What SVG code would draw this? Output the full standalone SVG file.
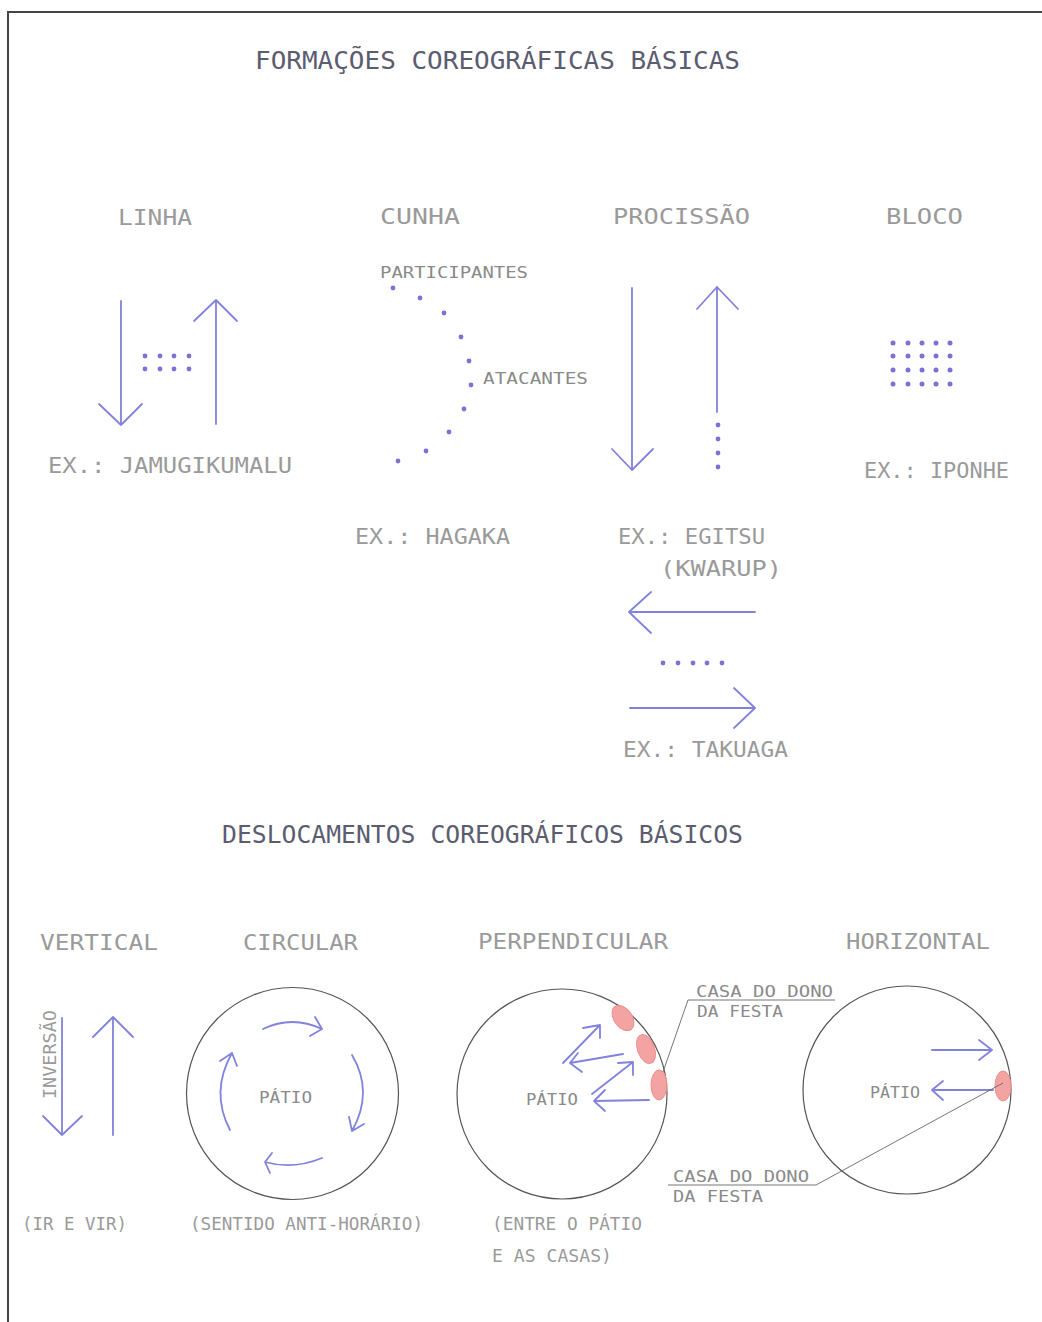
<svg xmlns="http://www.w3.org/2000/svg" width="1042" height="1322" viewBox="0 0 1042 1322">
<style>
text{font-family:"DejaVu Sans Mono","Liberation Mono",monospace;fill:#9a9a9a;}
.ttl{font-size:24px;fill:#5c5c70;}
.lbl{font-size:22px;}
.ex{font-size:22px;}
.sm{font-size:16px;fill:#8a8a8a;}
.cap{font-size:17px;}
.arr{fill:none;stroke:#8282dc;stroke-width:1.8;stroke-linecap:round;stroke-linejoin:round;}
.dot{fill:#7a72d6;}
.circ{fill:none;stroke:#555;stroke-width:1.2;}
.lead{fill:none;stroke:#666;stroke-width:0.9;}
.house{fill:#f4a3a3;stroke:#ee8c8c;stroke-width:1;}
</style>
<rect width="1042" height="1322" fill="#fff"/>
<g id="border"><path d="M8,1322 L8,12 L1042,12" fill="none" stroke="#444" stroke-width="2"/></g>

<g id="title1"><text class="ttl" x="255" y="69" textLength="485" lengthAdjust="spacingAndGlyphs">FORMAÇÕES COREOGRÁFICAS BÁSICAS</text></g>

<g id="linha">
<text class="lbl" x="118" y="225" textLength="74" lengthAdjust="spacingAndGlyphs">LINHA</text>
<path class="arr" d="M121,301 L121,425 M99,404 L121,425 L142,404"/>
<path class="arr" d="M216,424 L216,300 M194,321 L216,300 L237,321"/>
<g class="dot"><circle cx="145" cy="356" r="2.4"/><circle cx="160" cy="356" r="2.4"/><circle cx="174" cy="356" r="2.4"/><circle cx="189" cy="356" r="2.4"/><circle cx="145" cy="369" r="2.4"/><circle cx="160" cy="369" r="2.4"/><circle cx="174" cy="369" r="2.4"/><circle cx="189" cy="369" r="2.4"/></g>
<text class="ex" x="48" y="473" textLength="244" lengthAdjust="spacingAndGlyphs">EX.: JAMUGIKUMALU</text>
</g>

<g id="cunha">
<text class="lbl" x="380" y="224" textLength="80" lengthAdjust="spacingAndGlyphs">CUNHA</text>
<text class="sm" x="380" y="278" textLength="148" lengthAdjust="spacingAndGlyphs">PARTICIPANTES</text>
<g class="dot"><circle cx="393" cy="288" r="2.4"/><circle cx="420" cy="298" r="2.4"/><circle cx="444" cy="313" r="2.4"/><circle cx="461" cy="337" r="2.4"/><circle cx="469" cy="361" r="2.4"/><circle cx="471" cy="385" r="2.4"/><circle cx="464" cy="409" r="2.4"/><circle cx="449" cy="432" r="2.4"/><circle cx="426" cy="451" r="2.4"/><circle cx="398" cy="461" r="2.4"/></g>
<text class="sm" x="483" y="384" textLength="105" lengthAdjust="spacingAndGlyphs">ATACANTES</text>
<text class="ex" x="355" y="544" textLength="155" lengthAdjust="spacingAndGlyphs">EX.: HAGAKA</text>
</g>

<g id="procissao">
<text class="lbl" x="613" y="224" textLength="137" lengthAdjust="spacingAndGlyphs">PROCISSÃO</text>
<path class="arr" d="M632,288 L632,470 M612,449 L632,470 L653,449"/>
<path class="arr" d="M717,412 L717,287 M697,309 L717,287 L738,309"/>
<g class="dot"><circle cx="718" cy="425" r="2.4"/><circle cx="718" cy="439" r="2.4"/><circle cx="718" cy="453" r="2.4"/><circle cx="718" cy="467" r="2.4"/></g>
<text class="ex" x="618" y="544" textLength="147" lengthAdjust="spacingAndGlyphs">EX.: EGITSU</text>
<text class="ex" x="660" y="576" textLength="122" lengthAdjust="spacingAndGlyphs">(KWARUP)</text>
</g>

<g id="bloco">
<text class="lbl" x="886" y="224" textLength="77" lengthAdjust="spacingAndGlyphs">BLOCO</text>
<g class="dot">
<circle cx="893" cy="343" r="2.5"/><circle cx="908" cy="343" r="2.5"/><circle cx="922" cy="343" r="2.5"/><circle cx="936" cy="343" r="2.5"/><circle cx="950" cy="343" r="2.5"/>
<circle cx="893" cy="356" r="2.5"/><circle cx="908" cy="356" r="2.5"/><circle cx="922" cy="356" r="2.5"/><circle cx="936" cy="356" r="2.5"/><circle cx="950" cy="356" r="2.5"/>
<circle cx="893" cy="370" r="2.5"/><circle cx="908" cy="370" r="2.5"/><circle cx="922" cy="370" r="2.5"/><circle cx="936" cy="370" r="2.5"/><circle cx="950" cy="370" r="2.5"/>
<circle cx="893" cy="384" r="2.5"/><circle cx="908" cy="384" r="2.5"/><circle cx="922" cy="384" r="2.5"/><circle cx="936" cy="384" r="2.5"/><circle cx="950" cy="384" r="2.5"/>
</g>
<text class="ex" x="864" y="478" textLength="145" lengthAdjust="spacingAndGlyphs">EX.: IPONHE</text>
</g>

<g id="takuaga">
<path class="arr" d="M755,612 L629,612 M651,592 L629,612 L651,633"/>
<g class="dot"><circle cx="663" cy="663" r="2.4"/><circle cx="678" cy="663" r="2.4"/><circle cx="693" cy="663" r="2.4"/><circle cx="707" cy="663" r="2.4"/><circle cx="722" cy="663" r="2.4"/></g>
<path class="arr" d="M630,708 L755,708 M734,688 L755,708 L734,728"/>
<text class="ex" x="623" y="757" textLength="165" lengthAdjust="spacingAndGlyphs">EX.: TAKUAGA</text>
</g>

<g id="title2"><text class="ttl" x="222" y="843" textLength="521" lengthAdjust="spacingAndGlyphs">DESLOCAMENTOS COREOGRÁFICOS BÁSICOS</text></g>

<g id="vertical">
<text class="lbl" x="40" y="950" textLength="118" lengthAdjust="spacingAndGlyphs">VERTICAL</text>
<path class="arr" d="M62,1018 L62,1135 M43,1116 L62,1135 L82,1116"/>
<path class="arr" d="M113,1135 L113,1017 M93,1037 L113,1017 L133,1037"/>
<text class="cap" transform="translate(56,1099) rotate(-90)" x="0" y="0" textLength="89" lengthAdjust="spacingAndGlyphs">INVERSÃO</text>
<text class="cap" x="22" y="1230" textLength="105" lengthAdjust="spacingAndGlyphs">(IR E VIR)</text>
</g>

<g id="circular">
<text class="lbl" x="243" y="950" textLength="115" lengthAdjust="spacingAndGlyphs">CIRCULAR</text>
<circle class="circ" cx="292.5" cy="1093.5" r="106"/>
<text class="sm" x="259" y="1103" textLength="53" lengthAdjust="spacingAndGlyphs">PÁTIO</text>
<path class="arr" d="M263,1029 Q292,1015 322,1029 M315,1017 L322,1029 L310,1036"/>
<path class="arr" d="M352,1055 Q374,1092 352,1131 M364,1124 L352,1131 L349,1117"/>
<path class="arr" d="M322,1158 Q293,1170 265,1162 M272,1153 L265,1162 L270,1173"/>
<path class="arr" d="M230,1130 Q210,1092 232,1053 M220,1061 L232,1053 L237,1066"/>
<text class="cap" x="190" y="1230" textLength="233" lengthAdjust="spacingAndGlyphs">(SENTIDO ANTI-HORÁRIO)</text>
</g>

<g id="perpendicular">
<text class="lbl" x="478" y="949" textLength="190" lengthAdjust="spacingAndGlyphs">PERPENDICULAR</text>
<circle class="circ" cx="562" cy="1094" r="105"/>
<ellipse class="house" cx="623" cy="1018" rx="9" ry="14" transform="rotate(-35 623 1018)"/>
<ellipse class="house" cx="646" cy="1049" rx="8.5" ry="15" transform="rotate(-20 646 1049)"/>
<ellipse class="house" cx="659" cy="1085" rx="8" ry="15"/>
<text class="sm" x="526" y="1105" textLength="52" lengthAdjust="spacingAndGlyphs">PÁTIO</text>
<path class="arr" d="M563,1063 L600,1025 M583,1028 L600,1025 L600,1038"/>
<path class="arr" d="M623,1054 L570,1063 M578,1053 L570,1063 L582,1072"/>
<path class="arr" d="M592,1094 L633,1062 M618,1063 L633,1062 L633,1075"/>
<path class="arr" d="M649,1100 L594,1101 M605,1090 L594,1101 L605,1111"/>
<text class="cap" x="492" y="1230" textLength="150" lengthAdjust="spacingAndGlyphs">(ENTRE O PÁTIO</text>
<text class="cap" x="492" y="1262" textLength="120" lengthAdjust="spacingAndGlyphs">E AS CASAS)</text>
</g>

<g id="horizontal">
<text class="lbl" x="846" y="949" textLength="144" lengthAdjust="spacingAndGlyphs">HORIZONTAL</text>
<circle class="circ" cx="907" cy="1090" r="104"/>
<ellipse class="house" cx="1003" cy="1086" rx="8" ry="15"/>
<text class="sm" x="870" y="1098" textLength="50" lengthAdjust="spacingAndGlyphs">PÁTIO</text>
<path class="arr" d="M932,1050 L992,1050 M979,1040 L992,1050 L979,1060"/>
<path class="arr" d="M993,1090 L932,1090 M943,1081 L932,1090 L943,1100"/>
</g>

<g id="labels-casa">
<text class="sm" x="696" y="997" textLength="137" lengthAdjust="spacingAndGlyphs">CASA DO DONO</text>
<text class="sm" x="697" y="1017" textLength="86" lengthAdjust="spacingAndGlyphs">DA FESTA</text>
<text class="sm" x="673" y="1182" textLength="136" lengthAdjust="spacingAndGlyphs">CASA DO DONO</text>
<text class="sm" x="673" y="1202" textLength="90" lengthAdjust="spacingAndGlyphs">DA FESTA</text>
</g>

<g id="connectors">
<path class="lead" d="M835,1000 L688,1000 L663,1072"/>
<path class="lead" d="M668,1185 L816,1185 L1003,1083"/>
</g>
</svg>
